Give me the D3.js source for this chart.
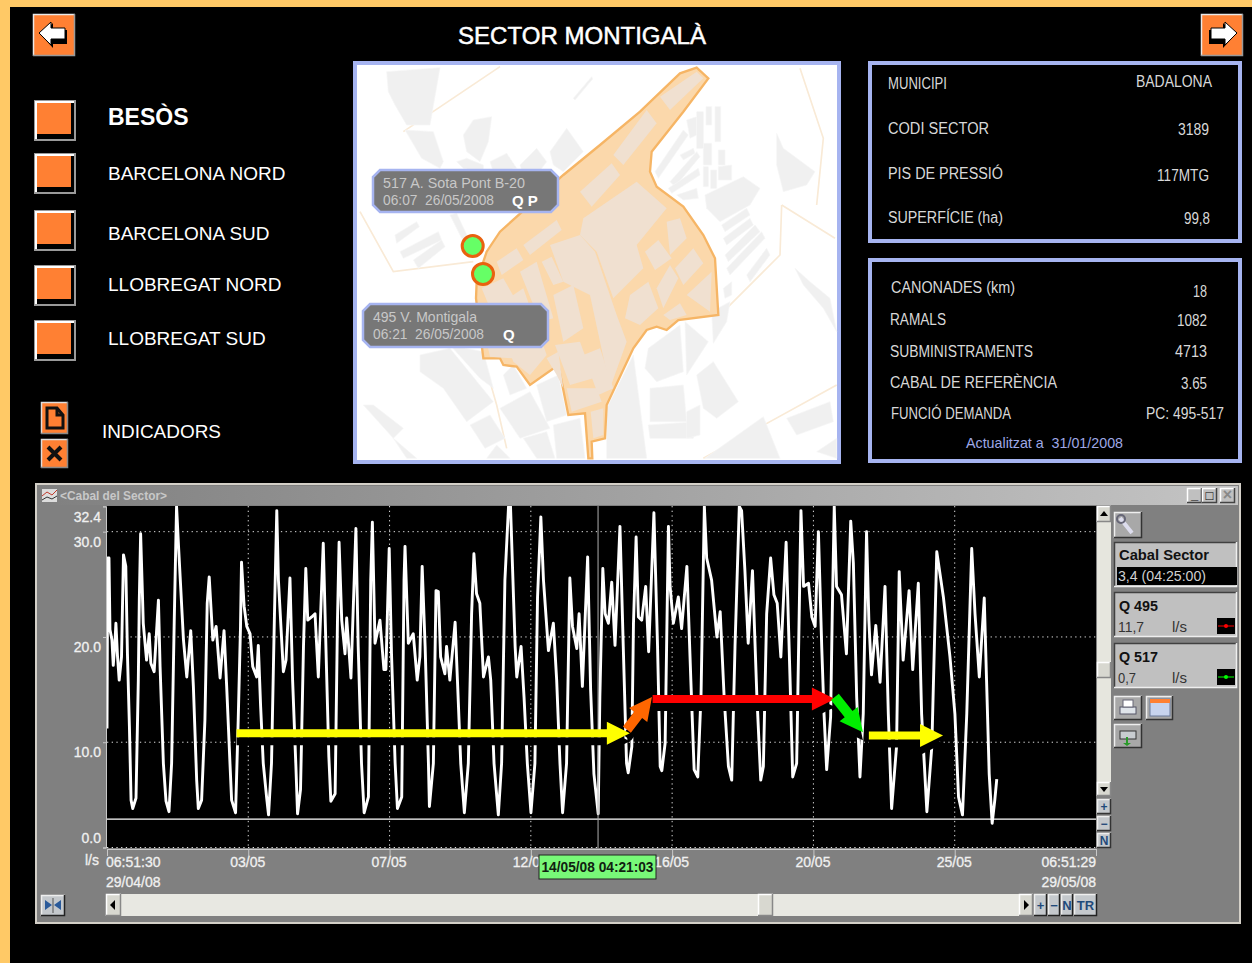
<!DOCTYPE html>
<html>
<head>
<meta charset="utf-8">
<script src="https://cdn.jsdelivr.net/npm/d3@7"></script>
<style>
html, body { margin: 0; padding: 0; background: #000; overflow: hidden; }
svg { display: block; font-family: "Liberation Sans", Arial, sans-serif; }
text { white-space: pre; }
</style>
</head>
<body>
<div id="chart"></div>
<script>
// flow series, days since the start of the window and l/s
const flowDays = [0,.02,.06,.09,.15,.19,.24,.27,.32,.37,.44,.5,.57,.62,.68,.73,.78,.88,.95,.98,1.02,1.08,1.1,1.2,1.28,1.33,1.43,1.56,1.61,1.71,1.79,1.88,1.96,2.04,2.11,2.17,2.32,2.42,2.54,2.62,2.72,2.77,2.87,2.97,3.04,3.1,3.21,3.31,3.43,3.55,3.63,3.73,3.78,3.9,3.98,4.05,4.08,4.16,4.24,4.34,4.42,4.54,4.59,4.66,4.74,4.84,4.9,4.99,5.08,5.15,5.2,5.35,5.43,5.55,5.63,5.73,5.78,5.87,5.96,6.03,6.09,6.21,6.31,6.41,6.56,6.64,6.73,6.79,6.92,6.99,7.04,7.12,7.22,7.27,7.4,7.55,7.62,7.72,7.8,7.93,8,8.05,8.13,8.28,8.4,8.46,8.56,8.63,8.74,8.81,8.94,9.01,9.04,9.14,9.29,9.41,9.49,9.56,9.65,9.75,
9.78,9.9,9.98,10.05,10.12,10.25,10.3,10.4,10.56,10.63,10.73,10.84,10.96,11.06,11.13,11.21,11.31,11.42,11.57,11.64,11.74,11.87,11.97,12.07,12.18,12.24,12.38,12.43,12.56,12.65,12.75,12.86,12.98,13.06,13.16,13.24,13.39,13.54,13.64,13.74,13.82,13.94,14.04,14.12,14.25,14.32,14.42,14.58,14.67,14.77,14.9,14.95,15.04,15.11,15.21,15.31,15.41,15.56,15.66,15.76,15.81,15.92,15.97,16.05,16.12,16.22,16.34,16.43,16.59,16.7,16.78,16.83,16.93,17.03,17.08,17.18,17.33,17.43,17.59,17.71,17.81,17.92,18.02,18.12,18.19,18.34,18.5,18.6,18.72,18.85,18.95,19.05,19.18,19.25,19.35,19.45,19.58,19.71,19.83,19.91,20.01,20.13,20.23,20.33,20.44,20.6,20.72,20.8,20.92,21.05,21.13,21.28,21.38,21.48,
21.58,21.68,21.75,21.83,21.95,22,22.06,22.13,22.28,22.43,22.56,22.64,22.74,22.84,22.94,23.04,23.11,23.19,23.32,23.45,23.6,23.7,23.8,23.95,24.03,24.15,24.33,24.44,24.61,24.71,24.87,25.02,25.17,25.37,25.57,25.72,25.83,25.95,26.08,26.23,26.33,26.46,26.61,26.68,26.76,26.85,26.93,26.99];
const flowValues = [11.3,27.5,27.5,20.7,19.7,17.3,19.4,21.3,18.1,15.9,18.1,27.8,26.7,18.4,11.5,4.5,3.7,4.7,15.9,23.5,29.8,23.5,21.3,17.8,20.3,17.5,16.7,23.5,17.2,8,4.4,3.4,8,21.6,32.4,28.6,19.7,16.2,20.6,15.3,6.4,3.7,4.5,12.1,23.2,25.7,19.7,21,16.1,20.6,15.3,8,4.5,3.3,12.1,21,27.1,22.9,21,20.3,17.2,16.2,19.2,13.4,8,4.8,3.1,8,22.2,32,25.4,16.7,17.8,25.6,15.9,7.7,3.2,5.5,19.1,26.5,21.6,21.9,22.2,16.2,28.9,19.1,8.6,4.4,5.1,21.3,29,21.6,18.4,21.8,16.1,30.3,19.1,8,3.3,4.8,25.4,30.9,19.4,21.6,16.9,16.9,28.4,18.4,8,3.7,4.8,25.4,28.6,19.4,20.3,15.9,18.1,26.7,19.1,8,
3.9,8,24.4,24.3,18.1,16.5,19.1,15.9,21.4,15.9,8,3.3,8,22.2,27.9,24.1,23.2,16.2,18.1,15.9,8,3.1,8,25.4,32.4,32.4,19.1,16.2,19.1,14.3,8,3.3,8,23.8,31.4,25.4,18.7,21.3,15.9,8,3.3,8,25.6,21,18.9,22.2,15.3,27.6,15,7,3.2,14.3,26.5,22.2,21.3,25.2,19.2,30.5,19.1,8,7.1,9.6,21.3,29.5,21.9,21.6,24.8,18.6,31.8,19.1,7.7,7.3,9.9,30.5,24.8,21.3,23.8,20.8,26.7,15.9,7.4,6.7,14.6,32.4,27.5,25.4,20,22.4,14.3,7.7,6.4,19.1,32.4,32,26.3,19.4,26.3,14.6,6.4,7.7,22.2,27.5,24,23.2,18.1,29,15.9,6.7,8,32,24.8,25.1,21.9,21,
30,19.1,12.7,7.4,12.4,22.2,32.4,24.8,24,18.4,31,27,14.3,6.7,12.7,30,21.6,16.4,21.1,15.7,24.8,12.7,3.7,9.6,26.2,17.8,24.4,16.9,25.1,12.7,3.4,9.6,28.1,23.8,18.1,12.7,4.8,3.1,12.7,28.4,22.2,16.2,23.7,15.9,7,2.3,4.5,6.5];

// axis
const yTicks = [0, 10, 20, 30, 32.4];
const gridValues = [10, 20, 30];
const cursorFlow = 2.7;
const xTickTimes = ["2008-05-03 13:42", "2008-05-07 20:34", "2008-05-12 03:25", "2008-05-16 10:17", "2008-05-20 17:08", "2008-05-25 00:00"];
const cursorTime = "2008-05-14 04:21";
const cursorLabel = "14/05/08 04:21:03";

// annotation arrows, [day, l/s]
const arrowColors = ["#ffff00", "#ff6600", "#ff0000", "#00ee00", "#ffff00"];
const arrowFrom = [[3.93, 10.85], [15.77, 11.2], [16.55, 14.1], [22.08, 14.3], [23.11, 10.65]];
const arrowTo = [[15.86, 10.85], [16.53, 14.3], [22.08, 14.1], [22.93, 10.95], [25.36, 10.65]];

// text
const sectors = ["BESÒS", "BARCELONA NORD", "BARCELONA SUD", "LLOBREGAT NORD", "LLOBREGAT SUD"];
const infoLabels = ["MUNICIPI", "CODI SECTOR", "PIS DE PRESSIÓ", "SUPERFÍCIE (ha)"];
const infoValues = ["BADALONA", "3189", "117MTG", "99,8"];
const networkLabels = ["CANONADES (km)", "RAMALS", "SUBMINISTRAMENTS", "CABAL DE REFERÈNCIA", "FUNCIÓ DEMANDA"];
const networkValues = ["18", "1082", "4713", "3.65", "PC: 495-517"];

const parseT = d3.timeParse("%Y-%m-%d %H:%M");
const start = new Date(2008, 3, 29, 6, 51, 30);
const end = new Date(2008, 4, 29, 6, 51, 29);

const svg = d3.select("#chart").append("svg").attr("width", 1252).attr("height", 963);
svg.append("rect").attr("width", 1252).attr("height", 963).attr("fill", "#000");
svg.append("rect").attr("width", 1252).attr("height", 7).attr("fill", "#ffc966");
svg.append("rect").attr("width", 10).attr("height", 963).attr("fill", "#ffc966");

function label(g, x, y, str, size, width, color, anchor, weight) {
    const t = g.append("text").attr("x", x).attr("y", y).text(str)
        .attr("font-size", size).attr("fill", color || "#e4e4e4")
        .attr("text-anchor", anchor || "start");
    if (width) t.attr("textLength", width).attr("lengthAdjust", "spacingAndGlyphs");
    if (weight) t.attr("font-weight", weight);
    return t;
}

// raised windows button
function bevel(g, x, y, w, h, fill, light, dark) {
    g.append("rect").attr("x", x).attr("y", y).attr("width", w).attr("height", h).attr("fill", fill);
    g.append("path").attr("fill", "none").attr("stroke", light || "#f4f4f0").attr("stroke-width", 1.5)
        .attr("d", `M${x + .5},${y + h}V${y + .5}H${x + w}`);
    g.append("path").attr("fill", "none").attr("stroke", dark || "#404040").attr("stroke-width", 1.5)
        .attr("d", `M${x + w - .5},${y}V${y + h - .5}H${x}`);
}

// header
const head = svg.append("g");
label(head, 582, 44, "SECTOR MONTIGALÀ", 23.5, 248, "#fff", "middle").attr("stroke", "#fff").attr("stroke-width", .5);

function navButton(x, y, dir) {
    bevel(head, x, y, 42, 42, "#ff8033", "#e8e8e8", "#999");
    const a = head.append("g").attr("transform", `translate(${x + 21},${y + 21}) scale(${dir},1)`);
    a.append("path").attr("fill", "#000").attr("d", "M-13,0L-1,-12V-5L13,-5V9H-1V13Z");
    a.append("path").attr("fill", "#fff").attr("stroke", "#000").attr("d", "M-15,-2L-3,-13V-7L11,-7V4H-3V10Z");
}
navButton(33, 14, 1);
navButton(1201, 14, -1);

// sector list
const boxY = [100, 153, 210, 265, 320];
const textY = [125, 180, 240, 291, 345];
sectors.forEach((s, i) => {
    head.append("rect").attr("x", 34).attr("y", boxY[i]).attr("width", 42).attr("height", 41).attr("fill", "#9a9a9a");
    head.append("rect").attr("x", 35).attr("y", boxY[i] + 1).attr("width", 39).attr("height", 38).attr("fill", "#fff");
    head.append("rect").attr("x", 37).attr("y", boxY[i] + 3).attr("width", 37).attr("height", 36).attr("fill", "#000");
    head.append("rect").attr("x", 37).attr("y", boxY[i] + 3).attr("width", 34).attr("height", 31).attr("fill", "#ff8033");
    label(head, 108, textY[i], s, i == 0 ? 23 : 19, null, "#fff", "start", i == 0 ? "bold" : null);
});

// indicadors
bevel(head, 41, 402, 27, 32, "#ff8033", "#ddd", "#888");
head.append("path").attr("fill", "none").attr("stroke", "#111").attr("stroke-width", 3)
    .attr("d", "M47,408H57L63,415V428H47Z M57,408V415H63");
bevel(head, 41, 439, 27, 29, "#ff8033", "#ddd", "#888");
head.append("path").attr("fill", "none").attr("stroke", "#111").attr("stroke-width", 4).attr("d", "M48,447L61,460M61,447L48,460");
label(head, 102, 438, "INDICADORS", 19, 119, "#fff");

// info panels
function panel(y, h) {
    svg.append("rect").attr("x", 870).attr("y", y + 2).attr("width", 370).attr("height", h - 4)
        .attr("fill", "#000").attr("stroke", "#a6b4f0").attr("stroke-width", 4);
}
panel(61, 182);
panel(258, 205);
const infoY = [89, 134, 179, 223], infoVY = [87, 135, 181, 224];
const infoW = [59, 101, 115, 115], infoVX = [1212, 1209, 1209, 1210], infoVW = [76, 31, 52, 26];
infoLabels.forEach((s, i) => {
    label(svg, 888, infoY[i], s, 16, infoW[i], "#d8d8d8");
    label(svg, infoVX[i], infoVY[i], infoValues[i], 16, infoVW[i], "#d8d8d8", "end");
});
const netY = [293, 325, 357, 388, 419], netVY = [297, 326, 357, 389, 419];
const netX = [891, 890, 890, 890, 891], netW = [124, 56, 143, 167, 120];
const netVX = [1207, 1207, 1207, 1207, 1224], netVW = [14, 30, 32, 26, 78];
networkLabels.forEach((s, i) => {
    label(svg, netX[i], netY[i], s, 16, netW[i], "#d8d8d8");
    label(svg, netVX[i], netVY[i], networkValues[i], 16, netVW[i], "#d8d8d8", "end");
});
label(svg, 966, 448, "Actualitzat a  31/01/2008", 15, 157, "#9fa8e6");

// map, drawn in its own 3x grid
const mapOuter = [[110,50,270,38,240,210,170,210,135,150,115,110],[165,225,250,230,280,320,270,340,215,310],[340,240,370,195,425,185,415,260,390,320,350,290],[320,320,350,310,400,330,400,350,340,340],[420,320,470,295,500,340,430,350],[510,330,560,280,590,320,560,360,520,360],[600,290,650,220,700,290,640,350,610,330],[670,130,725,65,728,72,675,135],[135,540,200,500,208,515,140,565],[150,590,265,530,275,555,160,610],[190,615,275,555,285,575,205,640],[300,480,320,475,360,560,335,550],[915,350,1000,225,1015,240,925,370],[960,380,1040,290,1050,305,975,395],[990,300,1030,280,1035,295,1000,315],[955,400,1045,340,1050,360,965,415],[980,420,1040,400,1045,430,1000,435],[1040,170,1060,170,1060,280,1040,280],[1068,155,1085,155,1085,210,1068,210],[1095,155,1112,155,1112,260,1095,260],[1010,195,1040,185,1040,240,1020,250],[1060,265,1085,265,1085,330,1060,330],[1105,285,1125,285,1125,330,1105,330],[1060,335,1075,335,1075,395,1060,395],[1082,345,1100,345,1100,400,1082,400],[1105,335,1145,330,1145,375,1105,375],[1065,420,1180,365,1230,400,1200,450,1110,500,1070,460],[1280,235,1300,280,1395,350,1370,390,1300,410,1280,330],[1115,510,1190,460,1200,480,1125,530],[1120,550,1200,490,1210,510,1130,570],[1125,600,1215,510,1230,530,1135,620],[1130,640,1235,530,1245,550,1140,660],[1190,660,1250,580,1260,600,1200,680],[1120,700,1145,680,1145,720,1125,730],[1335,640,1380,680,1440,730,1460,830,1420,760,1360,690],[770,1060,850,900,890,1210,770,1210],[895,880,990,810,1000,950,920,980,885,940],[1005,800,1075,860,1010,960],[1085,770,1140,740,1130,800,1090,865],[1040,960,1090,920,1165,1040,1100,1090,1060,1060],[900,1000,1000,990,1010,1100,900,1100],[895,1110,1040,1100,1030,1150,900,1150],[1010,1070,1050,1050,1050,1140,1010,1150],[1065,1210,1240,1085,1290,1210],[1310,1090,1440,1040,1450,1100,1340,1140],[1400,1190,1460,1150,1460,1210],[210,900,300,880,430,1040,350,1100,280,1000,210,950],[300,870,400,890,430,1000,390,970],[360,1110,420,1080,465,1150,405,1180],[450,1060,540,1010,600,1120,510,1150],[490,930,530,1000,480,1020,460,960],[560,990,625,960,650,1080,590,1100],[610,1110,690,1090,705,1210,620,1210],[520,1150,590,1130,615,1210,560,1210],[40,1050,70,1050,160,1120,130,1150],[130,1150,200,1210,170,1210],[410,1210,440,1170,480,1210]];
const mapRoads = [[30,470,130,650,370,620],[160,230,450,35],[1350,40,1420,250,1400,450],[1295,450,1455,550],[1295,450,1290,600,1130,760],[1060,1210,1460,990],[400,910,440,1050,470,1180]];
const mapSector = [1040,38,1075,70,1000,170,905,290,900,350,920,395,1000,455,1060,540,1095,610,1105,780,985,795,950,825,920,815,890,825,850,880,770,1050,765,1150,725,1160,727,1210,715,1210,705,1075,655,1080,625,930,540,990,500,935,460,930,450,910,400,910,378,730,380,680,410,590,450,530,640,360,750,270,870,170,990,55];
const mapBlocks = [[1040,50,1060,70,960,165,930,125],[890,165,920,205,820,330,790,300],[785,325,810,360,725,455,690,410],[860,380,950,460,860,570,880,640,790,730,740,590,690,540,700,490],[600,570,690,540,735,590,800,780,830,860,780,1000,720,720,640,680],[950,500,990,490,1010,550,960,600],[1030,580,1060,625,1000,690,975,640],[1085,650,1080,770,1010,720],[960,630,985,670,940,760,920,700],[885,590,925,555,965,610,915,645],[840,720,895,680,925,760,870,810,825,790],[940,780,990,745,1010,780,960,795],[520,570,620,495,635,525,540,600],[440,620,500,580,520,615,455,660],[510,650,560,620,610,790,570,800],[575,620,605,605,640,680,610,690],[395,700,460,670,500,740,420,760],[430,760,520,700,590,900,540,960,490,920],[410,860,470,840,490,910,420,905],[610,720,670,690,700,820,640,860],[615,870,690,860,730,970,660,990],[700,900,750,880,790,1000,745,1020],[650,1000,740,1000,755,1040,665,1070],[722,1070,760,1060,760,1140,730,1150],[590,910,625,890,640,1000,620,960]];
const mapPoly = d => "M" + d3.pairs(d.concat(0)).filter((p, i) => i % 2 == 0).map(p => p[0] + "," + p[1]).join("L") + "Z";
const mapLine = d => mapPoly(d).replace("Z", "");

const defs = svg.append("defs");
defs.append("clipPath").attr("id", "mapClip").append("rect").attr("x", 355).attr("y", 63).attr("width", 484).attr("height", 399);
defs.append("filter").attr("id", "soft").append("feGaussianBlur").attr("stdDeviation", .5);
defs.append("clipPath").attr("id", "plotClip").append("rect").attr("x", 107).attr("y", 506).attr("width", 989).attr("height", 342);

svg.append("rect").attr("x", 355).attr("y", 63).attr("width", 484).attr("height", 399)
    .attr("fill", "#fff").attr("stroke", "#a6b4f0").attr("stroke-width", 4);
const map = svg.append("g").attr("clip-path", "url(#mapClip)").append("g")
    .attr("filter", "url(#soft)").attr("transform", "translate(350,55) scale(0.33333)");
map.selectAll(".road").data(mapRoads).join("path").attr("d", mapLine)
    .attr("fill", "none").attr("stroke", "#f9ead6").attr("stroke-width", 5);
map.selectAll(".bld").data(mapOuter).join("path").attr("d", mapPoly).attr("fill", "#f0f0f0").attr("stroke", "#f6f6f6").attr("stroke-width", 2);
map.append("path").attr("d", mapPoly(mapSector)).attr("fill", "#fbd8ab").attr("stroke", "#f6b565").attr("stroke-width", 7);
map.selectAll(".blk").data(mapBlocks).join("path").attr("d", mapPoly).attr("fill", "#f0e0d0");

const pins = svg.append("g");
[[472.7, 246], [483, 274]].forEach(c => {
    pins.append("circle").attr("cx", c[0]).attr("cy", c[1]).attr("r", 10.5)
        .attr("fill", "#66ff66").attr("stroke", "#e8620f").attr("stroke-width", 3);
});
function mapTag(x, y, l1, l2, l3, x3) {
    const w = 185, h = y < 250 ? 42 : 43, c = 7;
    pins.append("path").attr("fill", "#777").attr("stroke", "#a6b4f0").attr("stroke-width", 2.5)
        .attr("d", `M${x + c},${y}H${x + w - c}L${x + w},${y + c}V${y + h - c}L${x + w - c},${y + h}H${x + c}L${x},${y + h - c}V${y + c}Z`);
    label(pins, x + 10, y + 18, l1, 15, l1.length > 17 ? 142 : 104, "#c8c8c8");
    label(pins, x + 10, y + 35, l2, 15, 111, "#c8c8c8");
    label(pins, x3, y + 36, l3, 15, null, "#fff", "start", "bold");
}
mapTag(373, 170, "517 A. Sota Pont B-20", "06:07  26/05/2008", "Q P", 512);
mapTag(363, 304, "495 V. Montigala", "06:21  26/05/2008", "Q", 503);

// trend window
const win = svg.append("g");
win.append("rect").attr("x", 36).attr("y", 484).attr("width", 1204).attr("height", 439)
    .attr("fill", "#808080").attr("stroke", "#d4d0c8").attr("stroke-width", 2);
const grad = defs.append("linearGradient").attr("id", "titleBar");
grad.append("stop").attr("offset", 0).attr("stop-color", "#808080");
grad.append("stop").attr("offset", 1).attr("stop-color", "#c4c4c4");
win.append("rect").attr("x", 38).attr("y", 486).attr("width", 1200).attr("height", 19).attr("fill", "url(#titleBar)");
win.append("rect").attr("x", 42).attr("y", 489).attr("width", 15).attr("height", 13).attr("fill", "#ddd");
win.append("path").attr("fill", "none").attr("stroke", "#c0392b").attr("d", "M42,496L47,492L52,495L57,490");
win.append("path").attr("fill", "none").attr("stroke", "#333").attr("d", "M42,500L47,497L52,499L57,496");
label(win, 60, 500, "<Cabal del Sector>", 12.5, 107, "#c8c8c8", "start", "bold");
[[1187, "_"], [1202, "□"], [1220, "×"]].forEach((b, i) => {
    bevel(win, b[0], 488, 15, 15, "#c0c0c0", "#fff", "#444");
    label(win, b[0] + 7.5, i == 0 ? 499 : 500, b[1], i == 2 ? 16 : 13, null, i == 2 ? "#888" : "#000", "middle", "bold");
});

// plot
const x = d3.scaleTime().domain([start, end]).range([107, 1096]);
const y = d3.scaleLinear().domain([0, 32.4]).range([847.5, 506.4]);
const dayX = d => x(new Date(+start + d * 864e5));

win.append("rect").attr("x", 107).attr("y", 506).attr("width", 989).attr("height", 342).attr("fill", "#000");

const grid = win.append("g").attr("stroke", "#ddd").attr("stroke-dasharray", "1.3,3.4");
grid.selectAll(".h").data(gridValues.concat(0)).join("line")
    .attr("x1", 107).attr("x2", 1096).attr("y1", d => y(d)).attr("y2", d => y(d));
grid.selectAll(".v").data(xTickTimes.map(parseT)).join("line")
    .attr("x1", d => x(d)).attr("x2", d => x(d)).attr("y1", 506).attr("y2", 848);

const plot = win.append("g").attr("clip-path", "url(#plotClip)");
const line = d3.line().x(d => dayX(d)).y((d, i) => y(flowValues[i]));
plot.append("path").datum(flowDays).attr("d", line)
    .attr("fill", "none").attr("stroke", "#fff").attr("stroke-width", 2.9).attr("stroke-linejoin", "round");
plot.append("line").attr("x1", 107).attr("x2", 1096).attr("y1", y(cursorFlow)).attr("y2", y(cursorFlow))
    .attr("stroke", "#fff").attr("stroke-width", 1.2);
plot.append("line").attr("x1", x(parseT(cursorTime))).attr("x2", x(parseT(cursorTime))).attr("y1", 506).attr("y2", 848)
    .attr("stroke", "#b0b0b0");

// arrows, black shadow first
function arrowPath(p0, p1) {
    const x0 = dayX(p0[0]), y0 = y(p0[1]), x1 = dayX(p1[0]), y1 = y(p1[1]);
    const len = Math.hypot(x1 - x0, y1 - y0), ux = (x1 - x0) / len, uy = (y1 - y0) / len;
    const hl = Math.min(23, len * .55), sw = len < 60 ? 5 : 4, hw = 11.5;
    const bx = x1 - ux * hl, by = y1 - uy * hl, nx = -uy, ny = ux;
    const pt = (a, b) => [a, b].join(",");
    return "M" + [pt(x0 + nx * sw, y0 + ny * sw), pt(bx + nx * sw, by + ny * sw), pt(bx + nx * hw, by + ny * hw), pt(x1, y1),
        pt(bx - nx * hw, by - ny * hw), pt(bx - nx * sw, by - ny * sw), pt(x0 - nx * sw, y0 - ny * sw)].join("L") + "Z";
}
const arrows = plot.append("g");
arrowColors.forEach((c, i) => {
    arrows.append("path").attr("d", arrowPath(arrowFrom[i], arrowTo[i])).attr("fill", "#000").attr("transform", "translate(0,8)");
});
arrowColors.forEach((c, i) => {
    arrows.append("path").attr("d", arrowPath(arrowFrom[i], arrowTo[i])).attr("fill", c);
});

// axes
const axisY = win.append("g").attr("transform", "translate(106,0)")
    .call(d3.axisLeft(y).tickValues(yTicks).tickFormat(d3.format(".1f")).tickSize(3).tickPadding(2));
const yShift = { 0: -5, 10: 14.5, 20: 14.5, 30: 14.5, 32.4: 15 };
axisY.selectAll("text").attr("font-size", 14).attr("font-family", "Liberation Sans").attr("fill", "#f0f0f0")
    .attr("stroke", "#f0f0f0").attr("stroke-width", .3).attr("dy", 0).attr("y", d => yShift[d]);
axisY.selectAll("line,path").attr("stroke", "#c8c8c8");

const axisX = win.append("g").attr("transform", "translate(0,849)")
    .call(d3.axisBottom(x).tickValues([start].concat(xTickTimes.map(parseT), [end]))
        .tickFormat(d3.timeFormat("%d/%m")).tickSize(7).tickPadding(3));
axisX.selectAll("line,path").attr("stroke", "#c8c8c8");
axisX.selectAll("text").attr("font-size", 14).attr("font-family", "Liberation Sans").attr("fill", "#f0f0f0")
    .attr("stroke", "#f0f0f0").attr("stroke-width", .3)
    .attr("dy", 0).attr("y", 18).attr("dx", -1)
    .filter((d, i) => i == 0 || i == 7).remove();

[[85, 865, "l/s", "start"], [106, 867, "06:51:30", "start"], [106, 887, "29/04/08", "start"],
 [1096, 867, "06:51:29", "end"], [1096, 887, "29/05/08", "end"]].forEach(t => {
    label(win, t[0], t[1], t[2], 14, null, "#f0f0f0", t[3]).attr("stroke", "#f0f0f0").attr("stroke-width", .3);
});

win.append("rect").attr("x", 539).attr("y", 855).attr("width", 117).attr("height", 24)
    .attr("fill", "#78f878").attr("stroke", "#222");
label(win, 597.5, 872, cursorLabel, 14, 112, "#102010", "middle", "bold");

// vertical scrollbar and zoom buttons
win.append("rect").attr("x", 1097).attr("y", 506).attr("width", 14).attr("height", 290).attr("fill", "#e6e6de");
bevel(win, 1097, 506, 14, 16, "#d8d8d0", "#fff", "#888");
win.append("path").attr("d", "M1104,511l-4,5h8Z").attr("fill", "#000");
bevel(win, 1097, 782, 14, 14, "#d8d8d0", "#fff", "#888");
win.append("path").attr("d", "M1104,792l-4,-5h8Z").attr("fill", "#000");
bevel(win, 1097, 662, 14, 16, "#d8d8d0", "#fff", "#888");
[[799, "+"], [816, "−"], [833, "N"]].forEach(b => {
    bevel(win, 1097, b[0], 14, 15, "#c4c8cc", "#eee", "#333");
    label(win, 1104, b[0] + 12, b[1], 12, null, "#1f4a7a", "middle", "bold");
});

// side panel
bevel(win, 1114, 512, 28, 26, "#a8a8a8", "#eee", "#333");
win.append("path").attr("d", "M1120,518L1132,533").attr("stroke", "#dde").attr("stroke-width", 4);
win.append("circle").attr("cx", 1121).attr("cy", 519).attr("r", 4).attr("fill", "none").attr("stroke", "#667").attr("stroke-width", 2);

bevel(win, 1114, 542, 123, 45, "#c0c0c0", "#404040", "#eee");
label(win, 1119, 560, "Cabal Sector", 14, 90, "#111", "start", "bold");
win.append("rect").attr("x", 1117).attr("y", 567).attr("width", 120).attr("height", 18).attr("fill", "#000");
label(win, 1118, 581, "3,4 (04:25:00)", 15, 88, "#d0d0d0");

function seriesBox(yb, name, val, color) {
    bevel(win, 1114, yb, 123, 45, "#c0c0c0", "#404040", "#eee");
    label(win, 1119, yb + 19, name, 14, 39, "#111", "start", "bold");
    label(win, 1118, yb + 40, val, 15, val.length > 3 ? 26 : 18, "#333");
    label(win, 1172, yb + 40, "l/s", 15, 15, "#333");
    win.append("rect").attr("x", 1217).attr("y", yb + 26).attr("width", 18).attr("height", 16).attr("fill", "#000");
    win.append("line").attr("x1", 1218).attr("x2", 1234).attr("y1", yb + 34).attr("y2", yb + 34).attr("stroke", color);
    win.append("circle").attr("cx", 1226).attr("cy", yb + 34).attr("r", 2).attr("fill", color);
}
seriesBox(592, "Q 495", "11,7", "#ff0000");
seriesBox(643, "Q 517", "0,7", "#00ff00");

bevel(win, 1114, 696, 28, 24, "#a8a8a8", "#eee", "#333");
win.append("rect").attr("x", 1120).attr("y", 707).attr("width", 16).attr("height", 7).attr("fill", "#dfe4ea").attr("stroke", "#556");
win.append("rect").attr("x", 1123).attr("y", 700).attr("width", 10).attr("height", 7).attr("fill", "#fff").attr("stroke", "#667");
bevel(win, 1146, 696, 27, 24, "#a8a8a8", "#eee", "#333");
win.append("rect").attr("x", 1150).attr("y", 699).attr("width", 20).attr("height", 17).attr("fill", "#c8d4ee").attr("stroke", "#6a7a9a");
win.append("rect").attr("x", 1150).attr("y", 699).attr("width", 20).attr("height", 4).attr("fill", "#ff8033");
bevel(win, 1114, 724, 28, 24, "#a8a8a8", "#eee", "#333");
win.append("rect").attr("x", 1120).attr("y", 731).attr("width", 16).attr("height", 8).attr("fill", "#c8ccd0").attr("stroke", "#333");
win.append("path").attr("d", "M1126,737v6h-3l4,3l4,-3h-3v-6Z").attr("fill", "#2a9a2a");

// horizontal scrollbar
win.append("rect").attr("x", 106).attr("y", 894).attr("width", 927).attr("height", 22).attr("fill", "#e8e8e2");
bevel(win, 106, 894, 15, 22, "#d8d8d0", "#fff", "#888");
win.append("path").attr("d", "M110,905l5,-5v10Z").attr("fill", "#000");
bevel(win, 758, 894, 15, 22, "#d8d8d0", "#fff", "#888");
bevel(win, 1019, 894, 14, 22, "#d8d8d0", "#fff", "#888");
win.append("path").attr("d", "M1029,905l-5,-5v10Z").attr("fill", "#000");
[[1034, 13, "+"], [1048, 12, "−"], [1061, 12, "N"], [1074, 23, "TR"]].forEach(b => {
    bevel(win, b[0], 894, b[1], 22, "#c4c8cc", "#eee", "#222");
    label(win, b[0] + b[1] / 2, 910, b[2], 13, null, "#1f4a7a", "middle", "bold");
});
bevel(win, 41, 895, 24, 21, "#c4c8cc", "#eee", "#222");
win.append("path").attr("d", "M52,905l-7,-5v10Z M54,905l7,-5v10Z").attr("fill", "#2a5a9a");
win.append("line").attr("x1", 53).attr("x2", 53).attr("y1", 898).attr("y2", 913).attr("stroke", "#555");
</script>
</body>
</html>
